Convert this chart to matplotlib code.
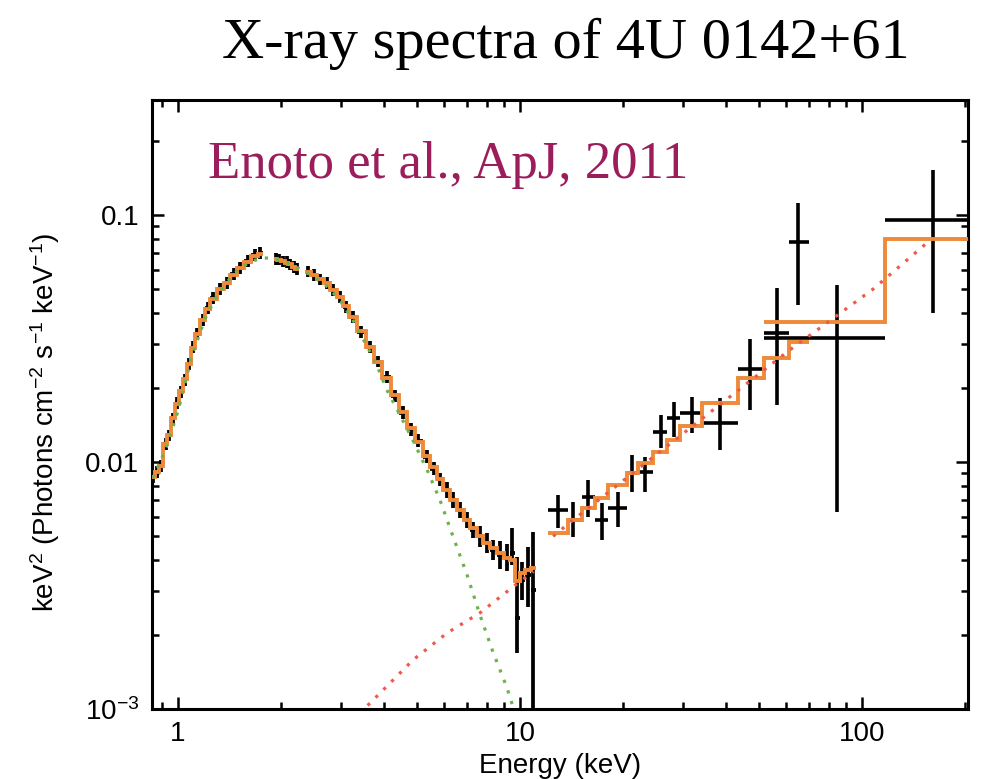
import numpy as np
import matplotlib
matplotlib.use('Agg')
import matplotlib.pyplot as plt
from matplotlib.ticker import FixedLocator, FixedFormatter, LogLocator, NullFormatter

plt.rcParams['font.family'] = ['Liberation Sans', 'DejaVu Sans']
plt.rcParams['mathtext.fontset'] = 'custom'
plt.rcParams['mathtext.rm'] = 'Liberation Sans'
plt.rcParams['mathtext.default'] = 'regular'

# ---- XIS spectrum (three pieces, gaps around 1.8 and 2.3 keV) ----
xis1_E = [0.845, 0.87, 0.895, 0.92, 0.945, 0.97, 0.995, 1.02, 1.048, 1.075, 1.106,
          1.14, 1.183, 1.225, 1.266, 1.33, 1.391, 1.455, 1.518, 1.60, 1.679, 1.74]
xis1_y = [0.0087, 0.0091, 0.0096, 0.0118, 0.0128, 0.0150, 0.0173, 0.0192, 0.0215, 0.0250, 0.0292,
          0.0330, 0.0376, 0.0420, 0.0461, 0.0500, 0.0531, 0.0575, 0.0610, 0.0650, 0.0689, 0.0700]
xis1_model = [0.0087, 0.0091, 0.0096, 0.0118, 0.0129, 0.0150, 0.0172, 0.0193, 0.0217, 0.0250, 0.0290,
              0.0330, 0.0374, 0.0418, 0.0458, 0.0500, 0.0532, 0.0573, 0.0608, 0.0648, 0.0683, 0.0695]

xis2_E = [1.93, 1.98, 2.03, 2.08, 2.13, 2.18, 2.23]
xis2_y = [0.0665, 0.0660, 0.0648, 0.0645, 0.0630, 0.0616, 0.0605]
xis2_model = [0.0662, 0.0658, 0.0650, 0.0642, 0.0632, 0.0618, 0.0606]

xis3_E = [2.40, 2.50, 2.61, 2.73, 2.85, 2.97, 3.10, 3.25, 3.44, 3.64, 3.85, 4.08,
          4.30, 4.55, 4.80, 5.05, 5.35, 5.60, 5.84, 6.10, 6.37, 6.70, 7.00, 7.30,
          7.64, 8.00, 8.34, 8.75, 9.16, 9.50, 9.80, 10.15, 10.55, 10.95]
xis3_y = [0.0590, 0.0570, 0.0548, 0.0531, 0.0495, 0.0466, 0.0425, 0.0386, 0.0335, 0.0292, 0.0255, 0.0221,
          0.0185, 0.0158, 0.0135, 0.0122, 0.0105, 0.0094, 0.0085, 0.0077, 0.0070, 0.0064, 0.0058, 0.0053,
          0.0050, 0.0047, 0.0044, 0.0042, 0.0041, 0.0043, 0.00234, 0.00333, 0.00349, 0.00303]
# errors in dex (lower, upper)
xis3_dlo = [0.024] * 12 + [0.026] * 7 + [0.032] * 5 + [0.042] * 3 + [0.055, 0.055, 0.05] + [0.141, 0.082, 0.13, 0.53]
xis3_dhi = [0.024] * 12 + [0.026] * 7 + [0.032] * 5 + [0.042] * 3 + [0.055, 0.055, 0.10] + [0.246, 0.073, 0.113, 0.235]
xis3_model = [0.0588, 0.0570, 0.0550, 0.0528, 0.0498, 0.0465, 0.0428, 0.0388, 0.0338, 0.0293, 0.0253, 0.0218,
              0.0186, 0.0160, 0.0137, 0.0120, 0.0106, 0.0095, 0.0085, 0.0077, 0.0070, 0.0064, 0.0058, 0.0054,
              0.0050, 0.0047, 0.0045, 0.0043, 0.0041, 0.0040, 0.00330, 0.00355, 0.00365, 0.00372]
xis_dex = 0.024

# ---- HXD-PIN ----
pin_edges = [12.1, 13.8, 15.2, 16.6, 18.1, 20.5, 22.1, 24.5, 26.9, 29.4, 34.1, 43.4, 51.7, 61.2, 70.0]
pin_E = [12.92, 14.29, 15.81, 17.37, 19.35, 21.25, 23.19, 25.83, 28.2, 31.8, 38.4, 47.1, 56.4, 65.0]
pin_y = [0.00639, 0.00582, 0.00722, 0.00582, 0.00651, 0.00902, 0.00911, 0.01322, 0.01507, 0.01579,
         0.01439, 0.02380, 0.03327, 0.0778]
pin_ylo = [0.00541, 0.00497, 0.00599, 0.00483, 0.00546, 0.00756, 0.00756, 0.0114, 0.01262, 0.0131,
           0.0112, 0.01624, 0.0170, 0.0432]
pin_yhi = [0.00736, 0.00689, 0.00845, 0.00682, 0.00756, 0.01067, 0.01047, 0.0155, 0.0175, 0.01834,
           0.01816, 0.03148, 0.0506, 0.1119]
pin_model = [0.00516, 0.00582, 0.00651, 0.00715, 0.00807, 0.00902, 0.00991, 0.01097, 0.01227, 0.01399,
             0.01733, 0.02188, 0.02636, 0.03061]

# ---- HXD-GSO ----
gso_edges = [51.7, 117.0, 210.0]
gso_E = [84.5, 161.0]
gso_y = [0.0318, 0.0955]
gso_ylo = [0.00628, 0.0401]
gso_yhi = [0.0521, 0.152]
gso_model = [0.0369, 0.0800]

# ---- model components ----
bb_E = [0.845, 0.92, 1.0, 1.1, 1.2, 1.3, 1.4, 1.5, 1.62, 1.75, 1.85, 2.0, 2.15, 2.3, 2.5, 2.75,
        3.0, 3.25, 3.5, 3.8, 4.08, 4.46, 4.87, 5.35, 5.84, 6.37, 7.0, 7.64, 8.34, 9.16, 9.54, 9.9]
bb_y = [0.0086, 0.0112, 0.0160, 0.0270, 0.0380, 0.0470, 0.0540, 0.0600, 0.0645, 0.0668, 0.0670, 0.0655,
        0.0628, 0.0600, 0.0560, 0.0510, 0.0445, 0.0375, 0.0310, 0.0250, 0.0196, 0.0155, 0.0122, 0.0093,
        0.0070, 0.0050, 0.0035, 0.0024, 0.0017, 0.00122, 0.00102, 0.00085]

pl_xis_E = [3.4, 3.90, 4.87, 6.12, 7.64, 9.54, 10.95]
pl_xis_y = [0.00096, 0.00116, 0.00158, 0.00203, 0.00245, 0.00312, 0.0036]
pl_hxd_E = [12.5, 13.8, 28.0, 60.4, 107.7, 156.0]
pl_hxd_y = [0.0050, 0.0056, 0.0121, 0.0279, 0.0501, 0.0778]

ORANGE = '#ee8a3a'
RED = '#ee5a4a'
GREEN = '#6db24f'


def log_edges(e):
    le = np.log10(e)
    mid = (le[1:] + le[:-1]) / 2
    return 10 ** np.concatenate([[2 * le[0] - mid[0]], mid, [2 * le[-1] - mid[-1]]])


fig = plt.figure(figsize=(9.85, 7.79), dpi=100)
ax = fig.add_axes([0.1543, 0.0899, 0.8284, 0.7817])
ax.set_xscale('log')
ax.set_yscale('log')

# XIS data and model
for E, y, dlo, dhi, model in [
        (xis1_E, xis1_y, [xis_dex] * len(xis1_E), [xis_dex] * len(xis1_E), xis1_model),
        (xis2_E, xis2_y, [xis_dex] * len(xis2_E), [xis_dex] * len(xis2_E), xis2_model),
        (xis3_E, xis3_y, xis3_dlo, xis3_dhi, xis3_model)]:
    E = np.array(E)
    y = np.array(y)
    edges = log_edges(E)
    ylo = y * 10 ** -np.array(dlo)
    yhi = y * 10 ** np.array(dhi)
    ax.errorbar(E, y, xerr=[E - edges[:-1], edges[1:] - E], yerr=[y - ylo, yhi - y],
                fmt='none', ecolor='black', elinewidth=2.7, capsize=0, zorder=2)
    ax.stairs(model, edges, color=ORANGE, linewidth=2.8, zorder=3, baseline=None)

# HXD data and model
for E, edges, y, ylo, yhi, model in [
        (pin_E, pin_edges, pin_y, pin_ylo, pin_yhi, pin_model),
        (gso_E, gso_edges, gso_y, gso_ylo, gso_yhi, gso_model)]:
    E = np.array(E)
    edges = np.array(edges)
    y = np.array(y)
    ax.errorbar(E, y, xerr=[E - edges[:-1], edges[1:] - E],
                yerr=[y - np.array(ylo), np.array(yhi) - y],
                fmt='none', ecolor='black', elinewidth=2.6, capsize=0, zorder=2)
    ax.stairs(model, edges, color=ORANGE, linewidth=2.8, zorder=3, baseline=None)

# components
ax.plot(bb_E, bb_y, color=GREEN, linestyle=(0, (1, 2.5)), linewidth=2.3, zorder=4)
ax.plot(pl_xis_E, pl_xis_y, color=RED, linestyle=(0, (1, 2.5)), linewidth=2.3, zorder=4)
ax.plot(pl_hxd_E, pl_hxd_y, color=RED, linestyle=(0, (1, 2.5)), linewidth=2.3, zorder=4)

ax.set_xlim(0.84, 204)
ax.set_ylim(1e-3, 0.292)

ax.xaxis.set_major_locator(FixedLocator([1, 10, 100]))
ax.xaxis.set_major_formatter(FixedFormatter(['1', '10', '100']))
ax.xaxis.set_minor_locator(LogLocator(base=10, subs=np.arange(2, 10)))
ax.xaxis.set_minor_formatter(NullFormatter())
ax.yaxis.set_major_locator(FixedLocator([1e-3, 1e-2, 1e-1]))
ax.yaxis.set_major_formatter(FixedFormatter(['$10^{-3}$', '0.01', '0.1']))
ax.yaxis.set_minor_locator(LogLocator(base=10, subs=np.arange(2, 10)))
ax.yaxis.set_minor_formatter(NullFormatter())

ax.tick_params(which='both', direction='in', top=True, right=True, width=1.8, labelsize=20)
ax.tick_params(which='major', length=8.5, pad=9)
ax.tick_params(which='minor', length=5)
for sp in ax.spines.values():
    sp.set_linewidth(2.2)

ax.set_xlabel('Energy (keV)', fontsize=20, labelpad=4)
fig.text(0.046, 0.458, 'keV$^2$ (Photons cm$^{-2}$ s$^{-1}$ keV$^{-1}$)', rotation=90,
         fontsize=20, ha='center', va='center')

fig.text(0.574, 0.926, 'X-ray spectra of 4U 0142+61', family='Liberation Serif',
         fontsize=42, ha='center', va='baseline')
fig.text(0.211, 0.771, 'Enoto et al., ApJ, 2011', family='Liberation Serif',
         fontsize=38, color='#9c1d5c', ha='left', va='baseline')

fig.savefig('out.png', dpi=100)
